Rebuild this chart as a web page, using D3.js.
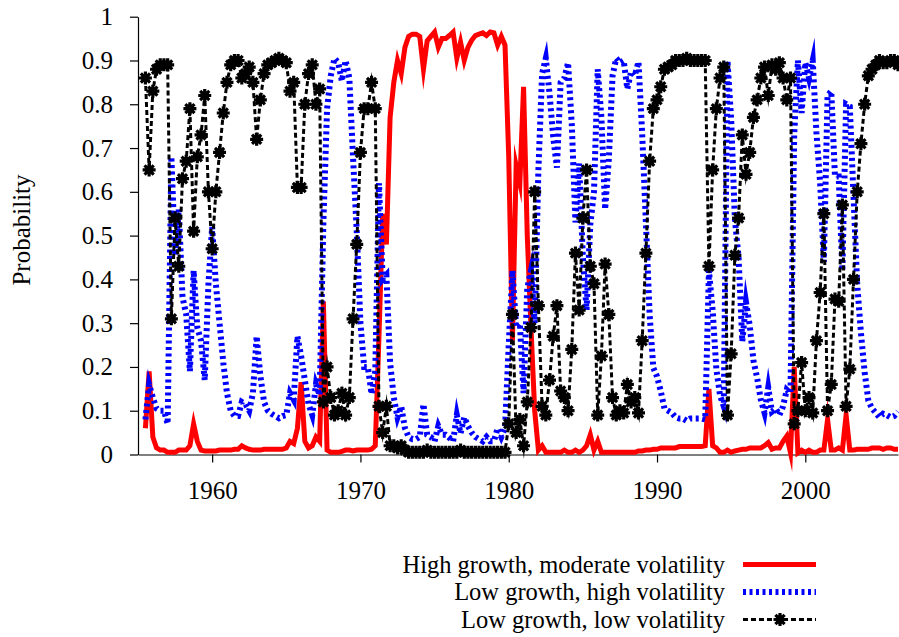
<!DOCTYPE html>
<head>
  <meta charset="utf-8">
  <title>Regime probabilities</title>
  <script src="https://d3js.org/d3.v7.min.js"></script>
  <style>
    body { margin:0; background:#fff; }
    svg { display:block; font-family:"Liberation Serif","Times New Roman",serif; }
    svg text { font-family:"Liberation Serif","Times New Roman",serif !important; }
  </style>
</head>

<body>
  <svg width="899" height="637"></svg>
  <script>
    // quarterly observations, first one is 1955 Q3
    var firstQuarter = 1955.5;
    var xTicks = [1960, 1970, 1980, 1990, 2000];
    var yTicks = [0, 0.1, 0.2, 0.3, 0.4, 0.5, 0.6, 0.7, 0.8, 0.9, 1];
    var seriesNames = [
      'High growth, moderate volatility',
      'Low growth, high volatility',
      'Low growth, low volatility'
    ];

    var highGrowthModVol = [
      0.06, 0.19,
      0.04, 0.015, 0.01, 0.01,
      0.005, 0.005, 0.005, 0.01,
      0.01, 0.01, 0.02, 0.07,
      0.03, 0.01, 0.008, 0.008,
      0.008, 0.008, 0.01, 0.01,
      0.01, 0.01, 0.012, 0.012,
      0.02, 0.015, 0.012, 0.01,
      0.01, 0.01, 0.012, 0.012,
      0.012, 0.012, 0.012, 0.012,
      0.015, 0.03, 0.025, 0.06,
      0.165, 0.03, 0.015, 0.02,
      0.04, 0.03, 0.35, 0.01,
      0.005, 0.005, 0.005, 0.007,
      0.01, 0.01, 0.008, 0.01,
      0.01, 0.01, 0.01, 0.012,
      0.02, 0.27, 0.55, 0.48,
      0.77, 0.85, 0.90, 0.87,
      0.93, 0.955, 0.96, 0.96,
      0.955, 0.88, 0.945, 0.955,
      0.965, 0.93, 0.95, 0.95,
      0.957, 0.965, 0.905, 0.942,
      0.90, 0.93, 0.946, 0.957,
      0.96, 0.963, 0.957, 0.965,
      0.963, 0.935, 0.955, 0.935,
      0.68, 0.26, 0.66, 0.62,
      0.84, 0.50, 0.29, 0.10,
      0.01, 0.02, 0.005, 0.005,
      0.005, 0.005, 0.005, 0.01,
      0.005, 0.005, 0.01, 0.005,
      0.01, 0.02, 0.045, 0.01,
      0.03, 0.005, 0.005, 0.005,
      0.005, 0.005, 0.005, 0.005,
      0.005, 0.005, 0.005, 0.008,
      0.008, 0.01, 0.01, 0.012,
      0.012, 0.015, 0.015, 0.015,
      0.015, 0.015, 0.018, 0.018,
      0.018, 0.018, 0.018, 0.018,
      0.018, 0.02, 0.15, 0.02,
      0.015, 0.005, 0.005, 0.01,
      0.005, 0.008, 0.01, 0.012,
      0.012, 0.015, 0.015, 0.015,
      0.015, 0.02, 0.027, 0.012,
      0.015, 0.015, 0.03, 0.042,
      0.004, 0.2, 0.004, 0.01,
      0.005, 0.01, 0.005, 0.005,
      0.01, 0.01, 0.08, 0.01,
      0.01, 0.015, 0.01, 0.09,
      0.01, 0.01, 0.012, 0.012,
      0.012, 0.012, 0.015, 0.015,
      0.015, 0.012, 0.015, 0.015,
      0.012, 0.012
    ];

    var lowGrowthHighVol = [
      0.08, 0.16,
      0.13, 0.105, 0.10, 0.10,
      0.07, 0.68, 0.455, 0.56,
      0.36, 0.32, 0.19, 0.42,
      0.29, 0.26, 0.17, 0.39,
      0.52, 0.39, 0.30, 0.21,
      0.14, 0.10, 0.088, 0.088,
      0.12, 0.115, 0.10, 0.14,
      0.27, 0.18, 0.12, 0.10,
      0.093, 0.088, 0.083, 0.088,
      0.09, 0.14, 0.125, 0.27,
      0.225, 0.17, 0.115, 0.09,
      0.16, 0.135, 0.53, 0.79,
      0.865, 0.905, 0.895, 0.853,
      0.90, 0.86, 0.68, 0.51,
      0.30, 0.20, 0.20, 0.138,
      0.19, 0.62, 0.40, 0.41,
      0.21, 0.13, 0.085, 0.11,
      0.06, 0.04, 0.035, 0.035,
      0.04, 0.115, 0.045, 0.04,
      0.03, 0.065, 0.045, 0.045,
      0.038, 0.03, 0.09, 0.048,
      0.085, 0.065, 0.05, 0.04,
      0.035, 0.03, 0.04, 0.03,
      0.03, 0.06, 0.04, 0.06,
      0.25, 0.42, 0.29, 0.30,
      0.14, 0.38, 0.42, 0.30,
      0.65, 0.87, 0.905, 0.825,
      0.725, 0.655, 0.85, 0.86,
      0.895, 0.755, 0.53, 0.665,
      0.45, 0.33, 0.525, 0.60,
      0.88, 0.77, 0.56, 0.675,
      0.865, 0.905, 0.895, 0.90,
      0.835, 0.875, 0.865, 0.897,
      0.732, 0.53, 0.32, 0.198,
      0.178, 0.145, 0.105, 0.10,
      0.095, 0.085, 0.082, 0.082,
      0.077, 0.082, 0.082, 0.082,
      0.082, 0.08, 0.42, 0.33,
      0.195, 0.135, 0.11, 0.90,
      0.765, 0.537, 0.45, 0.258,
      0.348, 0.295, 0.215, 0.175,
      0.125, 0.095, 0.153, 0.098,
      0.105, 0.09, 0.11, 0.148,
      0.14, 0.73, 0.90, 0.78,
      0.895, 0.86, 0.90, 0.735,
      0.62, 0.44, 0.82, 0.83,
      0.635, 0.635, 0.42, 0.80,
      0.795, 0.59, 0.388, 0.278,
      0.188, 0.123, 0.105, 0.095,
      0.085, 0.093, 0.09, 0.085,
      0.088, 0.098
    ];

    var lowGrowthLowVol = [
      0.86, 0.65,
      0.83, 0.88, 0.89, 0.89,
      0.89, 0.31, 0.54, 0.43,
      0.63, 0.67, 0.79, 0.51,
      0.68, 0.73, 0.82, 0.60,
      0.47, 0.60, 0.69, 0.78,
      0.85, 0.89, 0.90, 0.90,
      0.86, 0.87, 0.885, 0.85,
      0.72, 0.81, 0.87, 0.89,
      0.895, 0.90, 0.905, 0.90,
      0.895, 0.83, 0.85, 0.61,
      0.61, 0.80, 0.87, 0.89,
      0.80, 0.835, 0.12, 0.20,
      0.13, 0.09, 0.10, 0.14,
      0.09, 0.13, 0.31, 0.48,
      0.69, 0.79, 0.79, 0.85,
      0.79, 0.11, 0.05, 0.11,
      0.02, 0.02, 0.015, 0.02,
      0.01, 0.005, 0.005, 0.005,
      0.005, 0.005, 0.01, 0.005,
      0.005, 0.005, 0.005, 0.005,
      0.005, 0.005, 0.005, 0.01,
      0.005, 0.005, 0.005, 0.005,
      0.005, 0.005, 0.005, 0.005,
      0.005, 0.005, 0.005, 0.005,
      0.07, 0.32, 0.05, 0.08,
      0.02, 0.12, 0.29, 0.60,
      0.34, 0.11, 0.09, 0.17,
      0.27, 0.34, 0.145, 0.13,
      0.10, 0.24, 0.46, 0.33,
      0.54, 0.65, 0.43, 0.39,
      0.09, 0.225, 0.435, 0.32,
      0.13, 0.09, 0.10, 0.095,
      0.16, 0.12, 0.13, 0.095,
      0.26, 0.46, 0.67, 0.79,
      0.81, 0.84, 0.88, 0.885,
      0.89, 0.90, 0.90, 0.90,
      0.905, 0.90, 0.90, 0.90,
      0.90, 0.90, 0.43, 0.65,
      0.79, 0.86, 0.885, 0.09,
      0.23, 0.455, 0.54, 0.73,
      0.64, 0.69, 0.77, 0.81,
      0.86, 0.885, 0.82, 0.89,
      0.88, 0.895, 0.86, 0.81,
      0.86, 0.07, 0.10, 0.21,
      0.10, 0.13, 0.095, 0.26,
      0.37, 0.55, 0.10, 0.16,
      0.355, 0.35, 0.57, 0.11,
      0.195, 0.40, 0.60, 0.71,
      0.80, 0.865, 0.88, 0.89,
      0.90, 0.895, 0.895, 0.90,
      0.90, 0.89
    ];

    var dates = highGrowthModVol.map((d, i) => firstQuarter + i * 0.25);

    var svg = d3.select('svg');
    var font = '"Liberation Serif","Times New Roman",serif';

    var x = d3.scaleLinear().domain([1955, 2006.25]).range([138, 898]);
    var y = d3.scaleLinear().domain([0, 1]).range([454.5, 16.7]);

    // axes
    var yAxisG = svg.append('g')
      .attr('transform', 'translate(138,0)')
      .call(d3.axisLeft(y).tickValues(yTicks).tickSize(8).tickSizeOuter(0)
        .tickPadding(17).tickFormat(d => String(+d.toFixed(1))));

    var xAxisG = svg.append('g')
      .attr('transform', 'translate(0,454.5)')
      .call(d3.axisBottom(x).tickValues(xTicks).tickSize(8).tickSizeOuter(0)
        .tickPadding(19).tickFormat(d3.format('d')));

    [yAxisG, xAxisG].forEach(g => g.attr('font-family', font).attr('font-size', 25));
    svg.selectAll('.tick text')
      .style('font-family', font)
      .style('font-size', '25px')
      .attr('fill', '#000');
    svg.selectAll('.domain, .tick line')
      .attr('stroke', '#000')
      .attr('stroke-width', 1.2);

    svg.append('text')
      .attr('transform', 'translate(29.5,230) rotate(-90)')
      .attr('text-anchor', 'middle')
      .style('font-size', '25px')
      .text('Probability');

    var line = d3.line()
      .x((d, i) => x(dates[i]))
      .y(d => y(d));

    var styles = [
      { color: '#ff0000', width: 5, dash: null },
      { color: '#0000ff', width: 6, dash: '3,3.5' },
      { color: '#000000', width: 3, dash: '5,3' }
    ];
    var series = [highGrowthModVol, lowGrowthHighVol, lowGrowthLowVol];

    series.forEach((s, k) => {
      svg.append('path')
        .datum(s)
        .attr('d', line)
        .attr('fill', 'none')
        .attr('stroke', styles[k].color)
        .attr('stroke-width', styles[k].width)
        .attr('stroke-dasharray', styles[k].dash)
        .attr('stroke-linejoin', 'miter')
        .attr('stroke-miterlimit', 10);
    });

    // star markers on the low growth, low volatility series
    var star = 'M-6.5,0H6.5M0,-6.5V6.5M-4.6,-4.6L4.6,4.6M-4.6,4.6L4.6,-4.6';
    function drawStar(g, cx, cy) {
      g.append('rect')
        .attr('x', cx - 4).attr('y', cy - 4)
        .attr('width', 8).attr('height', 8)
        .attr('fill', '#000');
      g.append('path')
        .attr('d', star)
        .attr('transform', 'translate(' + cx + ',' + cy + ')')
        .attr('stroke', '#000')
        .attr('stroke-width', 3.2)
        .attr('fill', 'none');
    }
    var markers = svg.append('g');
    lowGrowthLowVol.forEach((d, i) => drawStar(markers, x(dates[i]), y(d)));

    // legend
    var legend = svg.append('g');
    var legendY = [564.5, 592, 619.5];
    seriesNames.forEach((name, k) => {
      legend.append('text')
        .attr('x', 725)
        .attr('y', legendY[k] + 8)
        .attr('text-anchor', 'end')
        .style('font-size', '24.5px')
        .text(name);
      legend.append('line')
        .attr('x1', 743).attr('x2', 816)
        .attr('y1', legendY[k]).attr('y2', legendY[k])
        .attr('stroke', styles[k].color)
        .attr('stroke-width', styles[k].width)
        .attr('stroke-dasharray', styles[k].dash);
    });
    drawStar(legend, 780, legendY[2]);
  </script>
</body>
